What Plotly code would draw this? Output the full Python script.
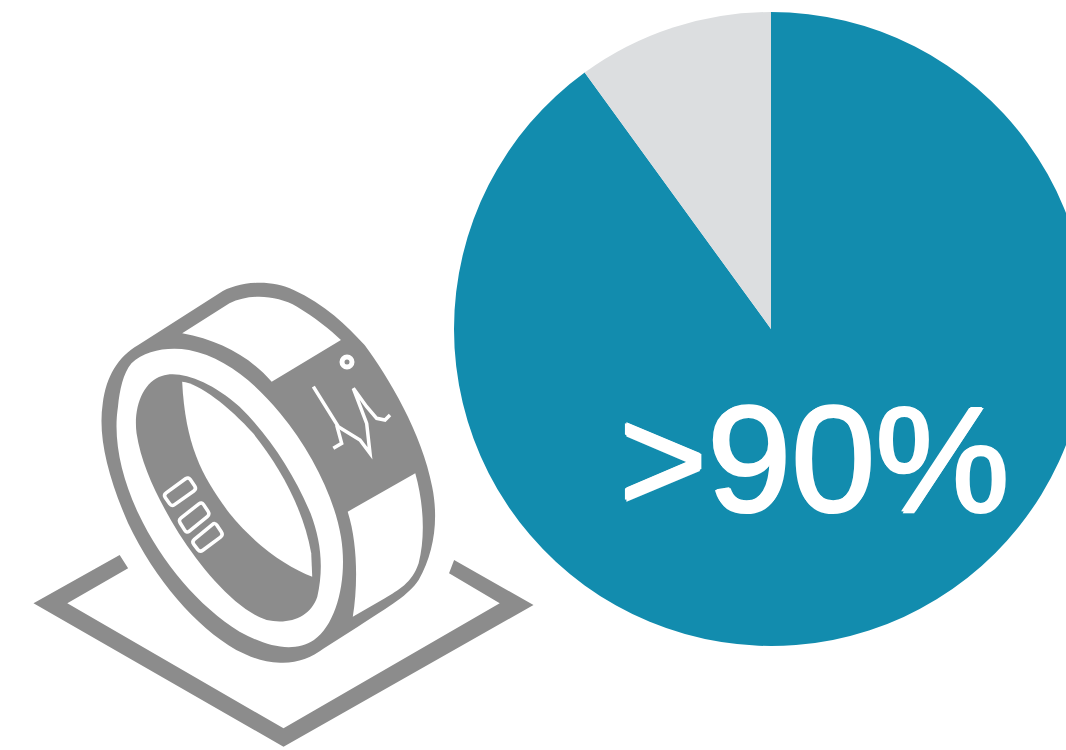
import re
import math
import plotly.graph_objects as go

# Chart data
categories = ["Above 90%", "Remainder"]
values = [90, 10]
slice_colors = ["#128CAE", "#DCDEE0"]
label_text = ">90%"

PAGE_W, PAGE_H = 1090, 750
GREY = "#8C8C8C"
WHITE = "#FFFFFF"


def path(d, ox=20, oy=270, sx=2.96, sy=3.0):
    """Icon paths are sketched on a scaled grid with an offset."""
    nums = iter(range(10 ** 6))
    def repl(m):
        i = next(nums)
        v = float(m.group())
        return f"{(ox + v / sx) if i % 2 == 0 else (oy + v / sy):.2f}"
    return re.sub(r"-?\d+(\.\d+)?", repl, d)


def fill(d, color):
    return dict(type="path", path=path(d), fillcolor=color, line=dict(width=0), layer="above")


def stroke_px(d, color, w):
    return dict(type="path", path=d, fillcolor="rgba(0,0,0,0)", line=dict(color=color, width=w), layer="above")


def zoomed(points, ox, oy):
    return [(ox + x / 3, oy + y / 3) for x, y in points]


def polyline(points):
    return "M" + " L".join(f"{x:.2f},{y:.2f}" for x, y in points)


def rounded(points, r=3.5):
    n = len(points)
    out = []
    for i in range(n):
        px, py = points[i - 1]
        cx, cy = points[i]
        nx, ny = points[(i + 1) % n]
        d1 = math.hypot(px - cx, py - cy)
        d2 = math.hypot(nx - cx, ny - cy)
        a = (cx + (px - cx) * r / d1, cy + (py - cy) * r / d1)
        b = (cx + (nx - cx) * r / d2, cy + (ny - cy) * r / d2)
        out.append(("M" if i == 0 else "L") + f"{a[0]:.2f},{a[1]:.2f} Q{cx:.2f},{cy:.2f} {b[0]:.2f},{b[1]:.2f}")
    return " ".join(out) + " Z"


shapes = [
    # base plate
    fill("M295,855 L40,1000 L780,1430 L1520,1005 L1285,870 L1270,910 L1420,1000 L780,1375 L140,1000 L320,895 Z", GREY),
    # outer silhouette
    fill("M350,225 L590,70 C640,35 740,25 810,60 C900,100 970,170 1020,225 C1090,320 1190,490 1220,650 "
         "C1240,750 1225,850 1180,930 C1150,975 1100,1005 1000,1070 L900,1135 C860,1165 820,1180 770,1178 "
         "C720,1178 680,1160 640,1140 "
         "C520,1070 400,930 320,760 C260,620 230,500 245,400 C255,320 290,260 350,225 Z", GREY),
    # front face band
    fill("M330,280 C370,240 440,230 500,240 C600,260 690,330 770,430 C860,540 930,680 950,800 "
         "C970,920 940,1060 870,1110 C810,1150 730,1130 650,1085 C530,1010 420,880 350,730 "
         "C300,620 275,510 290,410 C295,360 305,310 330,280 Z", WHITE),
    # inner dark
    fill("M420,318 C470,300 560,330 650,410 C740,500 810,610 860,730 C890,810 900,890 880,980 "
         "C860,1040 800,1065 730,1050 C640,1020 540,900 470,790 C410,690 360,590 345,490 "
         "C335,410 365,335 420,318 Z", GREY),
    # inner hole
    fill("M480,335 C530,340 620,410 690,490 C770,590 840,720 862,850 L865,920 "
         "C790,890 700,830 620,730 C540,620 490,530 480,335 Z", WHITE),
    # top panel
    fill("M480,190 L620,100 C680,70 760,75 820,110 C870,140 920,180 950,210 L745,335 "
         "C680,260 590,210 480,190 Z", WHITE),
    # lower panel
    fill("M970,725 L1170,610 C1195,700 1200,800 1180,880 C1160,940 1120,960 1080,985 L985,1040 "
         "C1000,950 1000,820 970,725 Z", WHITE),
    # pulse
    stroke_px(polyline(zoomed([(130, 140), (205, 260), (270, 300), (300, 340), (290, 250), (250, 145),
                               (290, 200), (320, 235), (345, 240), (360, 225)], 270, 340)), WHITE, 3.5),
    stroke_px(polyline(zoomed([(190, 325), (215, 310), (200, 255)], 270, 340)), WHITE, 3.5),
    # dot
    dict(type="circle", x0=342, x1=352, y0=357, y1=367, fillcolor="rgba(0,0,0,0)",
         line=dict(color=WHITE, width=5), layer="above"),
    # three small rectangles
    stroke_px(rounded(zoomed([(40, 90), (115, 35), (140, 72), (65, 125)], 150, 465)), WHITE, 3.5),
    stroke_px(rounded(zoomed([(85, 165), (155, 110), (180, 148), (110, 205)], 150, 465)), WHITE, 3.5),
    stroke_px(rounded(zoomed([(125, 230), (195, 172), (220, 210), (150, 262)], 150, 465)), WHITE, 3.5),
]

fig = go.Figure()
fig.add_trace(go.Pie(
    labels=categories,
    values=values,
    sort=False,
    direction="clockwise",
    rotation=0,
    marker=dict(colors=slice_colors, line=dict(width=0)),
    textinfo="none",
    hoverinfo="none",
    showlegend=False,
    domain=dict(x=[454 / PAGE_W, 1088 / PAGE_W], y=[(PAGE_H - 646) / PAGE_H, (PAGE_H - 12) / PAGE_H]),
))
fig.update_layout(
    width=PAGE_W,
    height=PAGE_H,
    autosize=False,
    margin=dict(l=0, r=0, t=0, b=0),
    paper_bgcolor="#FFFFFF",
    plot_bgcolor="rgba(0,0,0,0)",
    showlegend=False,
    xaxis=dict(visible=False, range=[0, PAGE_W], domain=[0, 1], fixedrange=True),
    yaxis=dict(visible=False, range=[PAGE_H, 0], domain=[0, 1], fixedrange=True),
    shapes=shapes,
    annotations=[dict(
        x=814, y=458, xref="x", yref="y", text=label_text, showarrow=False,
        xanchor="center", yanchor="middle",
        font=dict(family="Liberation Sans", size=151, color="#FFFFFF",
                  shadow="1.5px 0 0 #fff, -1.5px 0 0 #fff, 0 1.5px 0 #fff, 0 -1.5px 0 #fff"),
    )],
)
fig.write_html(
    "out.html",
    config=dict(displayModeBar=False),
    post_script="document.body.style.margin='0';document.body.style.overflow='hidden';"
                "document.documentElement.style.overflow='hidden';",
)
